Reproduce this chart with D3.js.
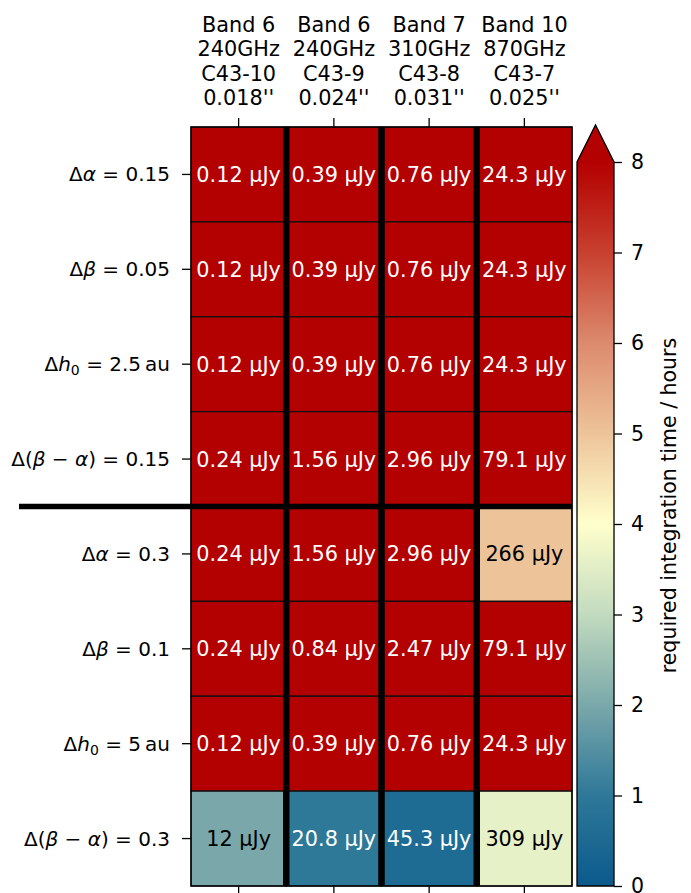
<!DOCTYPE html>
<html><head><meta charset="utf-8">
<script src="https://cdn.jsdelivr.net/npm/d3@7"></script>
<style>body{margin:0;background:#fff}svg{display:block;font-family:"DejaVu Sans",sans-serif}</style>
</head><body><svg id="c" width="691" height="893"></svg>
<script>
// ---- data ----
const columns = [
  ["Band 6","240GHz","C43-10","0.018''"],
  ["Band 6","240GHz","C43-9","0.024''"],
  ["Band 7","310GHz","C43-8","0.031''"],
  ["Band 10","870GHz","C43-7","0.025''"]
];
// row labels as [text, italic?, subscript?] segments
const rowLabels = [
  [["Δ"],["α",1],[" = 0.15"]],
  [["Δ"],["β",1],[" = 0.05"]],
  [["Δ"],["h",1],["0",0,1],[" = 2.5\u2009au"]],
  [["Δ("],["β",1],[" − "],["α",1],[") = 0.15"]],
  [["Δ"],["α",1],[" = 0.3"]],
  [["Δ"],["β",1],[" = 0.1"]],
  [["Δ"],["h",1],["0",0,1],[" = 5\u2009au"]],
  [["Δ("],["β",1],[" − "],["α",1],[") = 0.3"]]
];
// required sensitivity per cell (μJy)
const sensitivity = [
  ["0.12","0.39","0.76","24.3"],
  ["0.12","0.39","0.76","24.3"],
  ["0.12","0.39","0.76","24.3"],
  ["0.24","1.56","2.96","79.1"],
  ["0.24","1.56","2.96","266"],
  ["0.24","0.84","2.47","79.1"],
  ["0.12","0.39","0.76","24.3"],
  ["12","20.8","45.3","309"]
];
// required integration time (hours); cells at 8 are saturated (≥ 8 h)
const hours = [
  [8,8,8,8],
  [8,8,8,8],
  [8,8,8,8],
  [8,8,8,8],
  [8,8,8,5.0],
  [8,8,8,8],
  [8,8,8,8],
  [2.0,1.0,0.55,3.6]
];
const cbTicks = [0,1,2,3,4,5,6,7,8];
const cmapStops = [0,1,2,3,4,5,6,7,8];
const cmapColors = ["#0b5a8c","#2e7898","#7aa8aa","#c2dbbf","#ffffcc","#edc49a","#dc8a6e","#c8402f","#b30000"];

// ---- layout ----
const svg = d3.select("#c");
const L=191,R=572,T=127,B=886;
const x = d3.scaleBand().domain(d3.range(columns.length)).range([L,R]);
const y = d3.scaleBand().domain(d3.range(rowLabels.length)).range([T,B]);
const color = d3.scaleLinear().domain(cmapStops).range(cmapColors).clamp(true);

const cells = [];
hours.forEach((r,i)=>r.forEach((h,j)=>cells.push({i,j,h,s:sensitivity[i][j]})));

svg.append("g").selectAll("rect").data(cells).join("rect")
  .attr("x",d=>x(d.j)).attr("y",d=>y(d.i))
  .attr("width",x.bandwidth()).attr("height",y.bandwidth())
  .attr("fill",d=>color(d.h)).attr("stroke","#111").attr("stroke-width",1.3);

// thick vertical separators
svg.append("g").selectAll("line").data(d3.range(1,columns.length)).join("line")
  .attr("x1",j=>x(j)).attr("x2",j=>x(j)).attr("y1",T).attr("y2",B)
  .attr("stroke","#000").attr("stroke-width",6.5);

// cell labels
svg.append("g").selectAll("text").data(cells).join("text")
  .attr("x",d=>x(d.j)+x.bandwidth()/2).attr("y",d=>y(d.i)+y.bandwidth()/2+7.5)
  .attr("text-anchor","middle").attr("font-size",20.8)
  .attr("fill",d=>(d.h<1.5||d.h>5.5)?"#fff":"#000")
  .text(d=>d.s+" μJy");

// thick horizontal separator
svg.append("line").attr("x1",19).attr("x2",R).attr("y1",y(4)).attr("y2",y(4))
  .attr("stroke","#000").attr("stroke-width",5.5);

// frame
svg.append("rect").attr("x",L).attr("y",T).attr("width",R-L).attr("height",B-T)
  .attr("fill","none").attr("stroke","#000").attr("stroke-width",1.3);

// top axis
const xc = j=>x(j)+x.bandwidth()/2;
const topAx = svg.append("g").attr("transform",`translate(0,${T})`)
  .call(d3.axisTop(x).tickSize(9).tickFormat(""));
topAx.select(".domain").remove();
topAx.selectAll(".tick").attr("transform",d=>`translate(${xc(d)},0)`);
topAx.selectAll("line").attr("stroke","#000").attr("stroke-width",1.3);
const botAx = svg.append("g").attr("transform",`translate(0,${B})`)
  .call(d3.axisBottom(x).tickSize(9).tickFormat(""));
botAx.select(".domain").remove();
botAx.selectAll(".tick").attr("transform",d=>`translate(${xc(d)},0)`);
botAx.selectAll("line").attr("stroke","#000").attr("stroke-width",1.3);

const colText = svg.append("g").selectAll("text").data(columns).join("text")
  .attr("text-anchor","middle").attr("font-size",20.8).attr("fill","#000");
colText.each(function(lines,j){
  d3.select(this).selectAll("tspan").data(lines).join("tspan")
    .attr("x",xc(j)).attr("y",(d,k)=>32+k*24.4).text(d=>d);
});

// left axis
const leftAx = svg.append("g").attr("transform",`translate(${L},0)`)
  .call(d3.axisLeft(y).tickSize(9).tickFormat(""));
leftAx.select(".domain").remove();
leftAx.selectAll(".tick").attr("transform",d=>`translate(0,${y(d)+y.bandwidth()/2})`);
leftAx.selectAll("line").attr("stroke","#000").attr("stroke-width",1.3);
const rowText = svg.append("g").selectAll("text").data(rowLabels).join("text")
  .attr("text-anchor","end").attr("font-size",20).attr("fill","#000")
  .attr("x",L-21).attr("y",(d,i)=>y(i)+y.bandwidth()/2+7);
rowText.each(function(segs){
  d3.select(this).selectAll("tspan").data(segs).join("tspan")
    .attr("font-style",d=>d[1]?"italic":null)
    .attr("font-size",d=>d[2]?14:null)
    .attr("dy",(d,k)=>{ if(d[2]) return 4; if(k>0&&segs[k-1][2]) return -4; return null;})
    .style("white-space","pre")
    .text(d=>d[0]);
});

// colorbar
const cbL=577,cbW=37,cbTop=162,cbBot=886,apex=125;
const cy = d3.scaleLinear().domain([0,8]).range([cbBot,cbTop]);
const defs = svg.append("defs");
const grad = defs.append("linearGradient").attr("id","cg").attr("x1",0).attr("y1",1).attr("x2",0).attr("y2",0);
grad.selectAll("stop").data(cmapStops).join("stop")
  .attr("offset",d=>d/8).attr("stop-color",d=>color(d));
svg.append("rect").attr("x",cbL).attr("y",cbTop).attr("width",cbW).attr("height",cbBot-cbTop).attr("fill","url(#cg)");
svg.append("path").attr("d",`M${cbL},${cbTop}L${cbL+cbW/2},${apex}L${cbL+cbW},${cbTop}Z`).attr("fill",color(8));
svg.append("path").attr("d",`M${cbL},${cbBot}L${cbL},${cbTop}L${cbL+cbW/2},${apex}L${cbL+cbW},${cbTop}L${cbL+cbW},${cbBot}Z`)
  .attr("fill","none").attr("stroke","#000").attr("stroke-width",1.3);
const cbAx = svg.append("g").attr("transform",`translate(${cbL+cbW},0)`)
  .call(d3.axisRight(cy).tickValues(cbTicks).tickSize(8).tickPadding(9).tickFormat(d3.format("d")));
cbAx.select(".domain").remove();
cbAx.selectAll("line").attr("stroke","#000").attr("stroke-width",1.3);
cbAx.selectAll("text").attr("font-size",20.5).attr("fill","#000").attr("font-family","DejaVu Sans");
svg.append("text").attr("transform",`translate(676,${(apex+cbBot)/2}) rotate(-90)`)
  .attr("text-anchor","middle").attr("font-size",20.5).attr("fill","#000")
  .text("required integration time / hours");
</script></body></html>
